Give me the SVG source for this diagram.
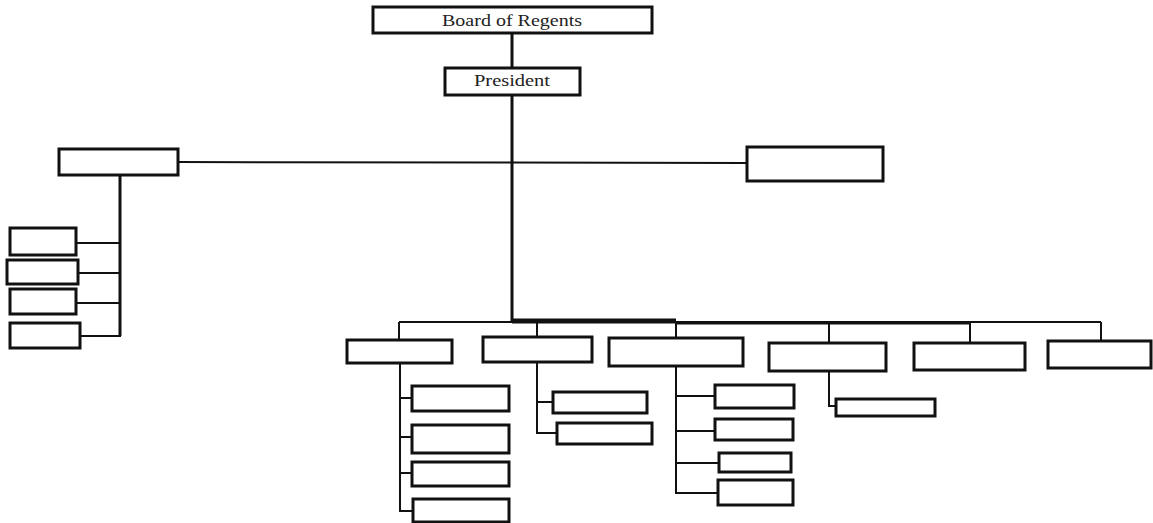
<svg xmlns="http://www.w3.org/2000/svg" width="1153" height="523" viewBox="0 0 1153 523">
<style>
.box{fill:#fff;stroke:#111;stroke-width:3}
.ln{fill:none;stroke:#111;stroke-width:2}
.tk{fill:none;stroke:#111;stroke-width:3}
.lbl{font-family:"Liberation Serif",serif;font-size:16px;fill:#222;text-anchor:middle}
</style>
<rect width="1153" height="523" fill="#fff"/>
<g id="connectors">
<line class="tk" x1="512" y1="33" x2="512" y2="68"/>
<line class="tk" x1="512" y1="95" x2="512" y2="322"/>
<line class="ln" x1="178" y1="162" x2="747" y2="163"/>
<polyline class="tk" points="120,175 120,336"/>
<line class="ln" x1="76" y1="243" x2="120" y2="243"/>
<line class="ln" x1="78" y1="273" x2="120" y2="273"/>
<line class="ln" x1="76" y1="303" x2="120" y2="303"/>
<line class="ln" x1="80" y1="336" x2="121" y2="336"/>
<line class="ln" x1="399" y1="322" x2="1101" y2="322"/>
<line x1="512" y1="321" x2="676" y2="321" stroke="#111" stroke-width="5"/>
<line x1="676" y1="323" x2="970" y2="323" stroke="#111" stroke-width="3"/>
<line class="ln" x1="399" y1="322" x2="399" y2="340"/>
<line class="ln" x1="537" y1="322" x2="537" y2="337"/>
<line class="ln" x1="676" y1="322" x2="676" y2="338"/>
<line class="ln" x1="829" y1="322" x2="829" y2="343"/>
<line class="ln" x1="970" y1="322" x2="970" y2="343"/>
<line class="ln" x1="1101" y1="322" x2="1101" y2="341"/>
<polyline class="ln" points="400,363 400,511 413,511"/>
<line class="ln" x1="400" y1="398" x2="412" y2="398"/>
<line class="ln" x1="400" y1="437" x2="412" y2="437"/>
<line class="ln" x1="400" y1="473" x2="412" y2="473"/>
<polyline class="ln" points="537,362 537,433 557,433"/>
<line class="ln" x1="537" y1="402" x2="553" y2="402"/>
<polyline class="ln" points="676,366 676,493 718,493"/>
<line class="ln" x1="676" y1="396" x2="715" y2="396"/>
<line class="ln" x1="676" y1="431" x2="715" y2="431"/>
<line class="ln" x1="676" y1="463" x2="719" y2="463"/>
<polyline class="ln" points="829,371 829,406 836,406"/>
</g>
<g id="board"><rect class="box" x="373" y="7" width="279" height="26"/><text class="lbl" x="512" y="26" textLength="140" lengthAdjust="spacingAndGlyphs">Board of Regents</text></g>
<g id="president"><rect class="box" x="445" y="68" width="135" height="27"/><text class="lbl" x="512" y="86" textLength="76" lengthAdjust="spacingAndGlyphs">President</text></g>
<g id="left"><rect class="box" x="59" y="149" width="119" height="26"/></g>
<g id="right"><rect class="box" x="747" y="147" width="136" height="34"/></g>
<g id="left-c1"><rect class="box" x="10" y="228" width="66" height="27"/></g>
<g id="left-c2"><rect class="box" x="7" y="260" width="71" height="24"/></g>
<g id="left-c3"><rect class="box" x="10" y="289" width="66" height="25"/></g>
<g id="left-c4"><rect class="box" x="10" y="323" width="70" height="25"/></g>
<g id="b1"><rect class="box" x="347" y="340" width="105" height="23"/></g>
<g id="b2"><rect class="box" x="483" y="337" width="109" height="25"/></g>
<g id="b3"><rect class="box" x="609" y="338" width="134" height="28"/></g>
<g id="b4"><rect class="box" x="769" y="343" width="117" height="28"/></g>
<g id="b5"><rect class="box" x="914" y="343" width="111" height="27"/></g>
<g id="b6"><rect class="box" x="1048" y="341" width="103" height="27"/></g>
<g id="b1-c1"><rect class="box" x="412" y="386" width="97" height="25"/></g>
<g id="b1-c2"><rect class="box" x="412" y="425" width="97" height="28"/></g>
<g id="b1-c3"><rect class="box" x="412" y="462" width="97" height="24"/></g>
<g id="b1-c4"><rect class="box" x="413" y="499" width="96" height="23"/></g>
<g id="b2-c1"><rect class="box" x="553" y="392" width="94" height="21"/></g>
<g id="b2-c2"><rect class="box" x="557" y="423" width="95" height="21"/></g>
<g id="b3-c1"><rect class="box" x="715" y="385" width="79" height="23"/></g>
<g id="b3-c2"><rect class="box" x="715" y="419" width="78" height="21"/></g>
<g id="b3-c3"><rect class="box" x="719" y="453" width="72" height="19"/></g>
<g id="b3-c4"><rect class="box" x="718" y="480" width="75" height="25"/></g>
<g id="b4-c1"><rect class="box" x="836" y="399" width="99" height="17"/></g>
</svg>
